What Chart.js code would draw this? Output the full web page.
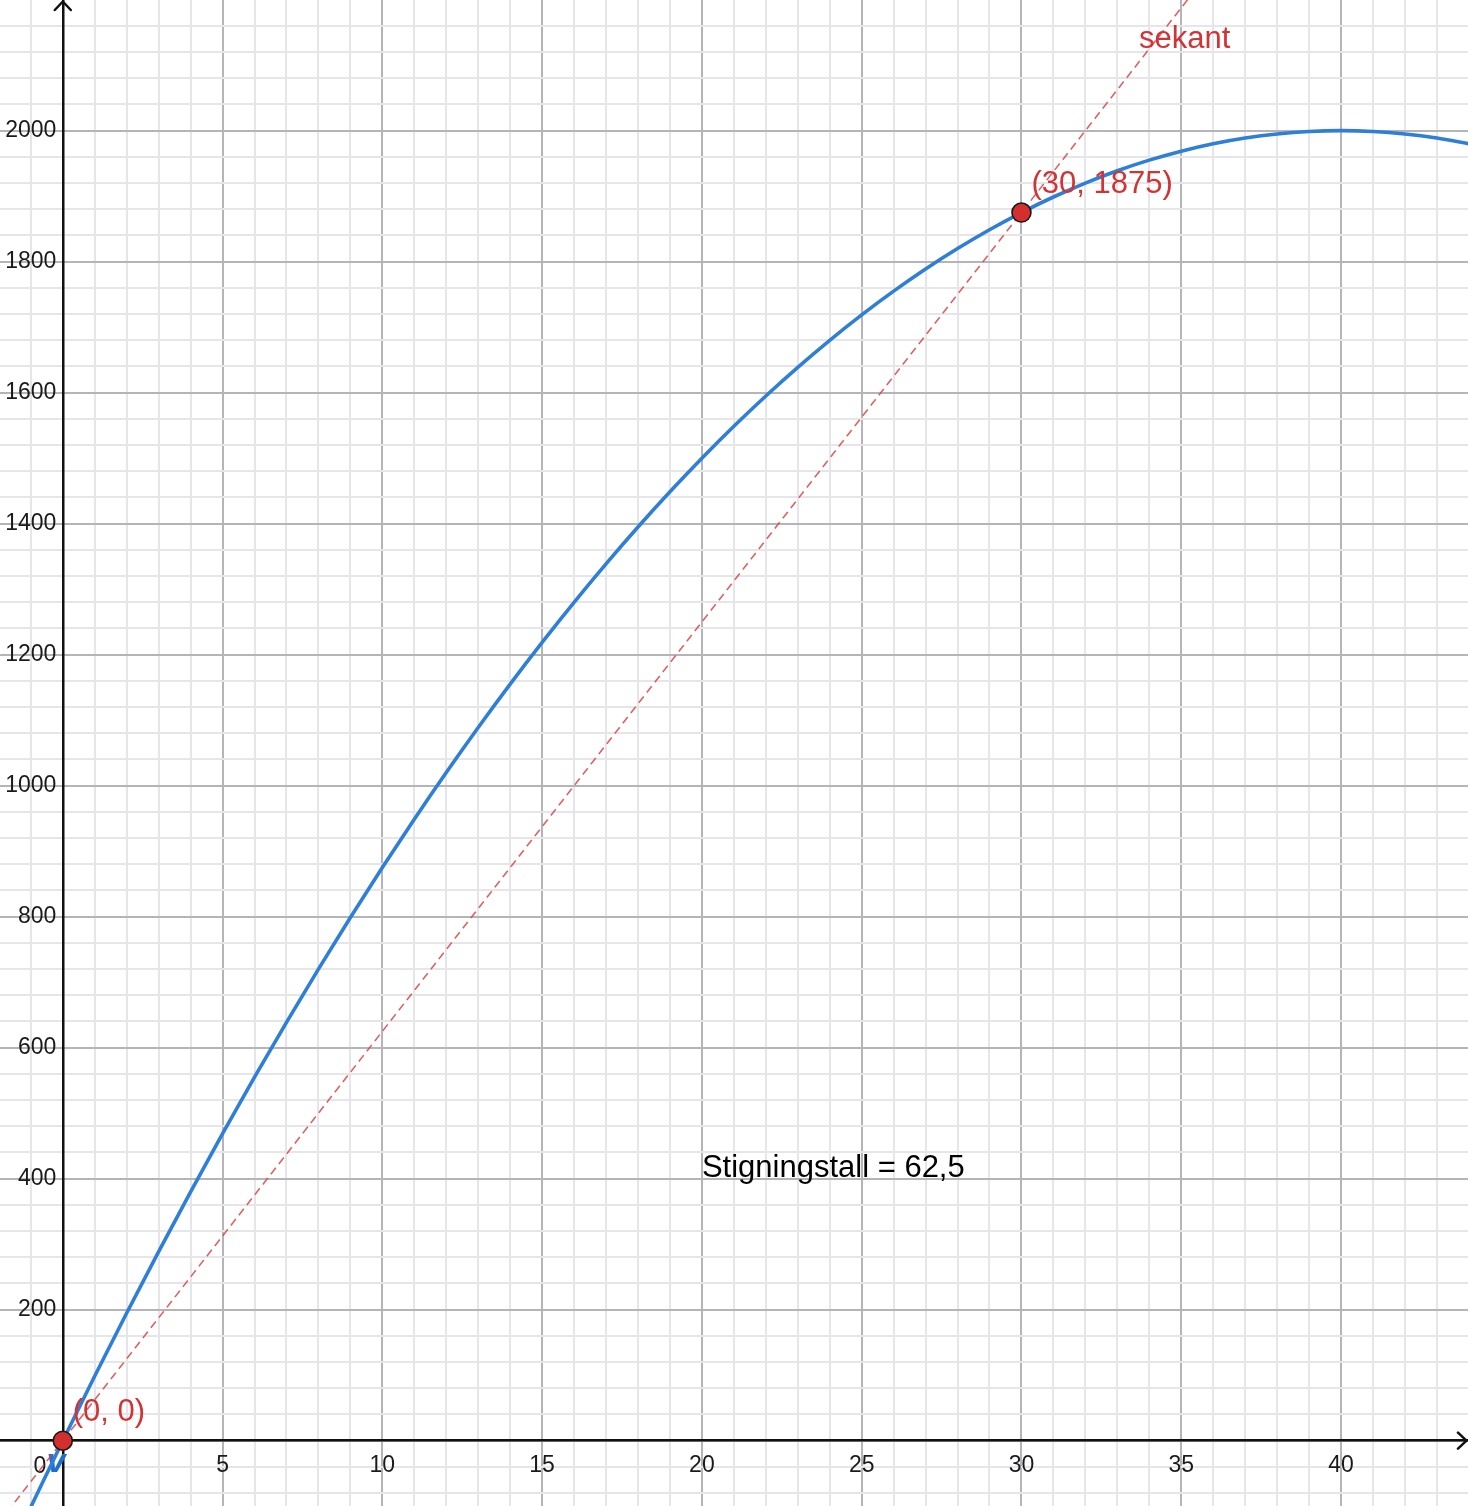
<!DOCTYPE html>
<html>
<head>
<meta charset="utf-8">
<script src="https://cdn.jsdelivr.net/npm/chart.js@4.4.1/dist/chart.umd.min.js"></script>
<style>
html,body{margin:0;padding:0;background:#ffffff;overflow:hidden}
#wrap{width:1468px;height:1506px;position:relative}
</style>
</head>
<body>
<div id="wrap"><canvas id="c"></canvas></div>
<script>
// ---- data ----
const curveX = [-1,0,1,2,3,4,5,6,7,8,9,10,11,12,13,14,15,16,17,18,19,20,21,22,23,24,25,26,27,28,29,30,31,32,33,34,35,36,37,38,39,40,41,42,43,44];
const curveY = [-101.25,0,98.75,195,288.75,380,468.75,555,638.75,720,798.75,875,948.75,1020,1088.75,1155,1218.75,1280,1338.75,1395,1448.75,1500,1548.75,1595,1638.75,1680,1718.75,1755,1788.75,1820,1848.75,1875,1898.75,1920,1938.75,1955,1968.75,1980,1988.75,1995,1998.75,2000,1998.75,1995,1988.75,1980];
const secantX = [-2, 36];
const secantY = [-125, 2250];
const pointX = [0, 30];
const pointY = [0, 1875];
const pointLabels = ['(0, 0)', '(30, 1875)'];
const functionName = 'v';
const secantName = 'sekant';
const secantNamePos = [33.68, 2126];
const slopeText = 'Stigningstall = 62,5';
const slopeTextPos = [20, 402];
const originLabel = '0';
const xRange = [-1.965, 43.974];
const yRange = [-99.7, 2199.5];
const xStep = 1, xMajor = 5;
const yStep = 40, yMajor = 200;

const FONT = '"Liberation Sans", Arial, Helvetica, sans-serif';
const MAJOR = '#b4b4b9';
const MINOR = '#e6e6ea';
const RED = '#d13434';
const BLUE = '#2f7fd6';

const annot = {
  id: 'annot',
  beforeDatasetsDraw(chart) {
    const {ctx, scales: {x, y}} = chart;
    const ox = x.getPixelForValue(0), oy = y.getPixelForValue(0);
    ctx.save();
    ctx.fillStyle = '#1a1a1a';
    ctx.font = '23px ' + FONT;
    ctx.textAlign = 'center';
    ctx.textBaseline = 'alphabetic';
    ctx.fillText(originLabel, ox - 23, oy + 32);
    ctx.fillStyle = '#1f6fd0';
    ctx.font = 'italic bold 34px ' + FONT;
    ctx.textAlign = 'left';
    ctx.fillText(functionName, ox - 16, oy + 31);
    ctx.restore();
  },
  afterDatasetsDraw(chart) {
    const {ctx, scales: {x, y}, chartArea} = chart;
    const ox = x.getPixelForValue(0), oy = y.getPixelForValue(0);
    ctx.save();
    ctx.strokeStyle = '#111';
    ctx.lineWidth = 2.5;
    ctx.lineCap = 'round';
    ctx.lineJoin = 'round';
    const R = chartArea.right, T = chartArea.top;
    ctx.beginPath();
    ctx.moveTo(R - 10, oy - 8); ctx.lineTo(R - 1.5, oy); ctx.lineTo(R - 10, oy + 8);
    ctx.stroke();
    ctx.beginPath();
    ctx.moveTo(ox - 8, T + 10); ctx.lineTo(ox, T + 1.5); ctx.lineTo(ox + 8, T + 10);
    ctx.stroke();

    ctx.font = '31px ' + FONT;
    ctx.textAlign = 'left';
    ctx.textBaseline = 'alphabetic';
    ctx.fillStyle = RED;
    pointX.forEach((px, i) => {
      ctx.fillText(pointLabels[i], x.getPixelForValue(px) + 10, y.getPixelForValue(pointY[i]) - 20);
    });
    ctx.fillText(secantName, x.getPixelForValue(secantNamePos[0]), y.getPixelForValue(secantNamePos[1]));
    ctx.fillStyle = '#000';
    ctx.fillText(slopeText, x.getPixelForValue(slopeTextPos[0]), y.getPixelForValue(slopeTextPos[1]));
    ctx.restore();
  }
};

const toPts = (xs, ys) => xs.map((v, i) => ({x: v, y: ys[i]}));
const noPad = s => { s.paddingLeft = 0; s.paddingRight = 0; s.paddingTop = 0; s.paddingBottom = 0; };

new Chart(document.getElementById('c'), {
  type: 'scatter',
  data: {
    datasets: [
      {
        label: 'punkter',
        data: toPts(pointX, pointY),
        showLine: false,
        pointRadius: 9.5,
        pointBackgroundColor: '#d32f2f',
        pointBorderColor: '#1a1a1a',
        pointBorderWidth: 1.6,
        order: 0
      },
      {
        label: functionName,
        data: toPts(curveX, curveY),
        showLine: true,
        borderColor: BLUE,
        borderWidth: 3.6,
        pointRadius: 0,
        cubicInterpolationMode: 'monotone',
        order: 1
      },
      {
        label: secantName,
        data: toPts(secantX, secantY),
        showLine: true,
        borderColor: 'rgba(214,72,72,0.85)',
        borderWidth: 1.6,
        borderDash: [8, 5],
        pointRadius: 0,
        order: 2
      }
    ]
  },
  options: {
    responsive: true,
    maintainAspectRatio: false,
    devicePixelRatio: 1,
    animation: false,
    events: [],
    layout: {padding: 0, autoPadding: false},
    plugins: {legend: {display: false}, tooltip: {enabled: false}},
    scales: {
      x: {
        type: 'linear',
        min: xRange[0],
        max: xRange[1],
        position: {y: 0},
        afterFit: noPad,
        grid: {
          color: c => (c.tick.value % xMajor === 0 ? MAJOR : MINOR),
          lineWidth: 2,
          drawTicks: false
        },
        border: {color: '#111', width: 2.5},
        ticks: {
          stepSize: xStep,
          includeBounds: false,
          autoSkip: false,
          minRotation: 0,
          maxRotation: 0,
          padding: 11,
          color: '#1a1a1a',
          font: {family: FONT, size: 23},
          callback: v => (v % xMajor === 0 && v !== 0 ? String(v) : '')
        }
      },
      y: {
        type: 'linear',
        min: yRange[0],
        max: yRange[1],
        position: {x: 0},
        afterFit: noPad,
        grid: {
          color: c => (c.tick.value % yMajor === 0 ? MAJOR : MINOR),
          lineWidth: 2,
          drawTicks: false
        },
        border: {color: '#111', width: 2.5},
        ticks: {
          stepSize: yStep,
          includeBounds: false,
          autoSkip: false,
          padding: 5,
          color: '#1a1a1a',
          font: {family: FONT, size: 23},
          callback: v => (v % yMajor === 0 && v !== 0 ? String(v) + ' ' : '')
        }
      }
    }
  },
  plugins: [annot]
});
</script>
</body>
</html>
